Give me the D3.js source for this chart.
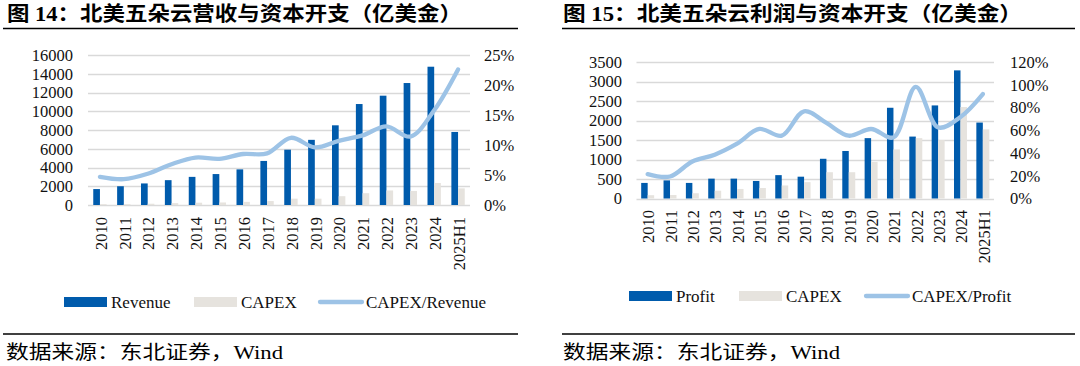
<!DOCTYPE html>
<html><head><meta charset="utf-8">
<script src="https://cdn.jsdelivr.net/npm/d3@7"></script>
<style>
html,body{margin:0;padding:0;background:#fff;}
svg{display:block;}
</style></head>
<body>
<svg id="c" width="1080" height="366"></svg>
<script>
const categories = ['2010','2011','2012','2013','2014','2015','2016','2017','2018','2019','2020','2021','2022','2023','2024','2025H1'];
const revenue = [1700, 2000, 2300, 2650, 3000, 3300, 3800, 4700, 5900, 6950, 8500, 10770, 11660, 13010, 14750, 7790];
const profit  = [400, 465, 400, 510, 510, 450, 600, 560, 1020, 1220, 1550, 2330, 1590, 2390, 3290, 1950];
const capex   = [85, 90, 135, 200, 245, 270, 335, 420, 675, 675, 940, 1260, 1550, 1500, 2350, 1775];
const capexRevenuePct = [4.7, 4.3, 5.2, 6.8, 7.9, 7.7, 8.5, 8.6, 11.2, 9.6, 10.7, 11.6, 13.1, 11.4, 15.8, 22.6];
const capexProfitPct  = [21.5, 19.4, 32.6, 38.6, 48.3, 61.2, 55.3, 76.8, 66.5, 55.3, 61.2, 53.8, 98.3, 62.6, 71.8, 92.0];
const leftTicks = [0,2000,4000,6000,8000,10000,12000,14000,16000];
const leftPctTicks = [0,5,10,15,20,25];
const rightTicks = [0,500,1000,1500,2000,2500,3000,3500];
const rightPctTicks = [0,20,40,60,80,100,120];

const BLUE = '#005BAC', GREY = '#E6E3DE', LINE = '#9DC3E6', GRID = '#D9D9D9';
const NUMFONT = '"Liberation Serif","Times New Roman",serif';
const CJK = '"Liberation Serif","Noto Sans CJK SC",serif';
const svg = d3.select('#c');

function panel(o) {
  const g = svg.append('g');
  // title
  g.append('text').attr('x', o.tx).attr('y', 21)
    .attr('font-family', CJK).attr('font-weight', 'bold').attr('font-size', 20)
    .attr('fill', '#000').attr('textLength', o.tLen).attr('lengthAdjust', 'spacingAndGlyphs')
    .text(o.title);
  g.append('line').attr('x1', o.lx1).attr('x2', o.lx2).attr('y1', 28.5).attr('y2', 28.5)
    .attr('stroke', '#000').attr('stroke-width', 1.5);
  g.append('line').attr('x1', o.lx1).attr('x2', o.lx2).attr('y1', 334).attr('y2', 334)
    .attr('stroke', '#000').attr('stroke-width', 1.5);
  g.append('text').attr('x', o.sx).attr('y', 359)
    .attr('font-family', CJK).attr('font-size', 19)
    .attr('fill', '#000').attr('textLength', 277).attr('lengthAdjust', 'spacingAndGlyphs')
    .text('数据来源：东北证券，Wind');

  const x = d3.scaleBand().domain(categories).range([o.x0, o.x1]).padding(0);
  const y = d3.scaleLinear().domain([0, o.yMax]).range([o.yBottom, o.yTop]);
  const y2 = d3.scaleLinear().domain([0, o.pMax]).range([o.yBottom, o.yTop]);
  const bw = x.bandwidth() * o.bwFrac;

  // grid
  g.append('g').selectAll('line').data(o.ticks).join('line')
    .attr('x1', o.x0).attr('x2', o.x1)
    .attr('y1', d => Math.round(y(d)) + 0.5).attr('y2', d => Math.round(y(d)) + 0.5)
    .attr('stroke', GRID).attr('stroke-width', 1.3);

  // left axis
  const ya = d3.axisLeft(y).tickValues(o.ticks).tickSize(0).tickPadding(0).tickFormat(d => String(d));
  const yaG = g.append('g').attr('transform', `translate(${o.lLabelX},0)`).call(ya);
  yaG.select('.domain').remove();
  yaG.selectAll('text').attr('font-family', NUMFONT).attr('font-size', 16.5).attr('fill', '#111');

  // right axis
  const yb = d3.axisRight(y2).tickValues(o.pTicks).tickSize(0).tickPadding(0).tickFormat(d => d + '%');
  const ybG = g.append('g').attr('transform', `translate(${o.rLabelX},0)`).call(yb);
  ybG.select('.domain').remove();
  ybG.selectAll('text').attr('font-family', NUMFONT).attr('font-size', 16.5).attr('fill', '#111');

  // x labels
  const xa = d3.axisBottom(x).tickSize(0).tickPadding(0);
  const xaG = g.append('g').attr('transform', `translate(0,${o.yBottom})`).call(xa);
  xaG.select('.domain').remove();
  xaG.selectAll('text')
    .attr('font-family', NUMFONT).attr('font-size', 16.5).attr('fill', '#111')
    .attr('transform', `translate(1,${o.xLabY}) rotate(-90)`)
    .attr('text-anchor', 'end').attr('dy', '0.35em').attr('y', 0).attr('x', 0);

  // bars
  g.append('g').selectAll('rect').data(o.main).join('rect')
    .attr('x', (d, i) => x(categories[i]) + x.bandwidth() / 2 - bw)
    .attr('width', bw)
    .attr('y', d => y(d)).attr('height', d => o.yBottom - y(d))
    .attr('fill', BLUE);
  g.append('g').selectAll('rect').data(capex).join('rect')
    .attr('x', (d, i) => x(categories[i]) + x.bandwidth() / 2)
    .attr('width', bw)
    .attr('y', d => y(d)).attr('height', d => o.yBottom - y(d))
    .attr('fill', GREY);

  // ratio line
  const line = d3.line()
    .x((d, i) => x(categories[i]) + x.bandwidth() / 2)
    .y(d => y2(d))
    .curve(d3.curveCatmullRom.alpha(0.5));
  g.append('path').datum(o.pct).attr('d', line)
    .attr('fill', 'none').attr('stroke', LINE).attr('stroke-width', 4.3)
    .attr('stroke-linecap', 'round');

  // legend
  const L = o.leg;
  const lg = g.append('g');
  lg.append('rect').attr('x', L[0]).attr('y', o.legY - 5).attr('width', 43).attr('height', 10).attr('fill', BLUE);
  lg.append('text').attr('x', L[0] + 47).attr('y', o.legY).attr('dy', '0.35em').text(o.names[0]);
  lg.append('rect').attr('x', L[1]).attr('y', o.legY - 5).attr('width', 43).attr('height', 10).attr('fill', GREY);
  lg.append('text').attr('x', L[1] + 47).attr('y', o.legY).attr('dy', '0.35em').text(o.names[1]);
  lg.append('line').attr('x1', L[2] + 2).attr('x2', L[2] + 44).attr('y1', o.legY).attr('y2', o.legY)
    .attr('stroke', LINE).attr('stroke-width', 4.3).attr('stroke-linecap', 'round');
  lg.append('text').attr('x', L[2] + 48).attr('y', o.legY).attr('dy', '0.35em').text(o.names[2]);
  lg.selectAll('text').attr('font-family', NUMFONT).attr('font-size', 17).attr('fill', '#111');
}

panel({
  title: '图 14：北美五朵云营收与资本开支（亿美金）', tx: 7, tLen: 455, lx1: 3, lx2: 518, sx: 6,
  x0: 88, x1: 470, yTop: 55, yBottom: 205, yMax: 16000, pMax: 25,
  ticks: leftTicks, pTicks: leftPctTicks, lLabelX: 73, rLabelX: 484, bwFrac: 0.28, xLabY: 12,
  main: revenue, pct: capexRevenuePct,
  leg: [64, 194, 318], legY: 302, names: ['Revenue', 'CAPEX', 'CAPEX/Revenue']
});
panel({
  title: '图 15：北美五朵云利润与资本开支（亿美金）', tx: 563, tLen: 459, lx1: 562, lx2: 1075, sx: 563,
  x0: 636.5, x1: 994, yTop: 62.2, yBottom: 198.5, yMax: 3500, pMax: 120,
  ticks: rightTicks, pTicks: rightPctTicks, lLabelX: 622, rLabelX: 1010, bwFrac: 0.29, xLabY: 11.5,
  main: profit, pct: capexProfitPct,
  leg: [629, 739, 864], legY: 296, names: ['Profit', 'CAPEX', 'CAPEX/Profit']
});
</script>
</body></html>
